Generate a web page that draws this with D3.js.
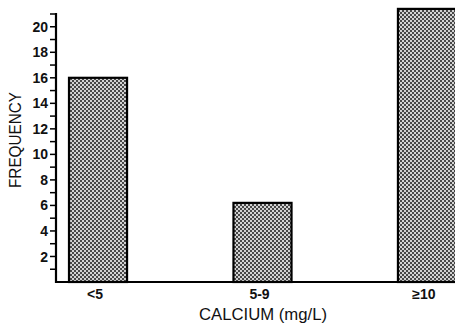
<!DOCTYPE html>
<html><head><meta charset="utf-8">
<script src="https://cdn.jsdelivr.net/npm/d3@7"></script>
<style>
html,body{margin:0;padding:0;background:#fff;}
svg{display:block;}
text{font-family:"Liberation Sans",Arial,Helvetica,sans-serif;fill:#111;}
</style></head>
<body>
<script>
const categories = ["<5", "5-9", "\u226510"];
const frequency = [16, 6.2, 21.4];
const majorTicks = [2, 4, 6, 8, 10, 12, 14, 16, 18, 20];
const minorTicks = [1, 3, 5, 7, 9, 11, 13, 15, 17, 19, 21];
const xTitle = "CALCIUM (mg/L)";
const yTitle = "FREQUENCY";

const W = 455, H = 323;
const svg = d3.select("body").append("svg").attr("width", W).attr("height", H);

const defs = svg.append("defs");
const pat = defs.append("pattern").attr("id", "dots").attr("patternUnits", "userSpaceOnUse")
  .attr("width", 4).attr("height", 4);
pat.append("rect").attr("width", 4).attr("height", 4).attr("fill", "#d2d2d2");
pat.append("rect").attr("x", 0).attr("y", 0).attr("width", 2).attr("height", 2).attr("fill", "#474747");
pat.append("rect").attr("x", 2).attr("y", 2).attr("width", 2).attr("height", 2).attr("fill", "#474747");

const x = d3.scaleBand().domain(categories).range([69, 456]).paddingInner(0.647).paddingOuter(0);
const y = d3.scaleLinear().domain([0, 21]).range([282, 14]);
const axisX = 56;

// bars
svg.selectAll("rect.bar").data(categories).enter().append("rect")
  .attr("class", "bar")
  .attr("x", d => x(d))
  .attr("y", (d, i) => y(frequency[i]))
  .attr("width", x.bandwidth())
  .attr("height", (d, i) => y(0) - y(frequency[i]))
  .attr("fill", "url(#dots)")
  .attr("stroke", "#000").attr("stroke-width", 2.2);

// y axis
const gy = svg.append("g").attr("transform", `translate(${axisX},0)`);
gy.append("line").attr("x1", 0).attr("x2", 0).attr("y1", y(21) - 1).attr("y2", y(0) + 1)
  .attr("stroke", "#000").attr("stroke-width", 2.2);
gy.selectAll("line.minor").data(minorTicks).enter().append("line")
  .attr("x1", -6).attr("x2", 0).attr("y1", d => y(d)).attr("y2", d => y(d))
  .attr("stroke", "#000").attr("stroke-width", 1.5);
gy.selectAll("line.major").data(majorTicks).enter().append("line")
  .attr("x1", -6).attr("x2", 0).attr("y1", d => y(d)).attr("y2", d => y(d))
  .attr("stroke", "#000").attr("stroke-width", 1.5);
gy.selectAll("text.tl").data(majorTicks).enter().append("text")
  .attr("x", -8).attr("y", d => y(d)).attr("dy", "0.36em")
  .attr("text-anchor", "end").attr("font-size", 14).attr("font-weight", "bold")
  .text(d => d);

// x axis
svg.append("line").attr("x1", axisX - 1).attr("x2", W).attr("y1", y(0)).attr("y2", y(0))
  .attr("stroke", "#000").attr("stroke-width", 2.2);
svg.selectAll("text.xl").data(categories).enter().append("text")
  .attr("x", d => x(d) + x.bandwidth() / 2 - 3)
  .attr("y", 299)
  .attr("text-anchor", "middle").attr("font-size", 14).attr("font-weight", "bold")
  .text(d => d);

// titles
svg.append("text").attr("x", 263).attr("y", 320).attr("text-anchor", "middle")
  .attr("font-size", 16).attr("textLength", 128).attr("lengthAdjust", "spacingAndGlyphs")
  .text(xTitle);
svg.append("text").attr("transform", "translate(21,140) rotate(-90)").attr("text-anchor", "middle")
  .attr("font-size", 16).attr("textLength", 96).attr("lengthAdjust", "spacingAndGlyphs")
  .text(yTitle);
</script>
</body></html>
